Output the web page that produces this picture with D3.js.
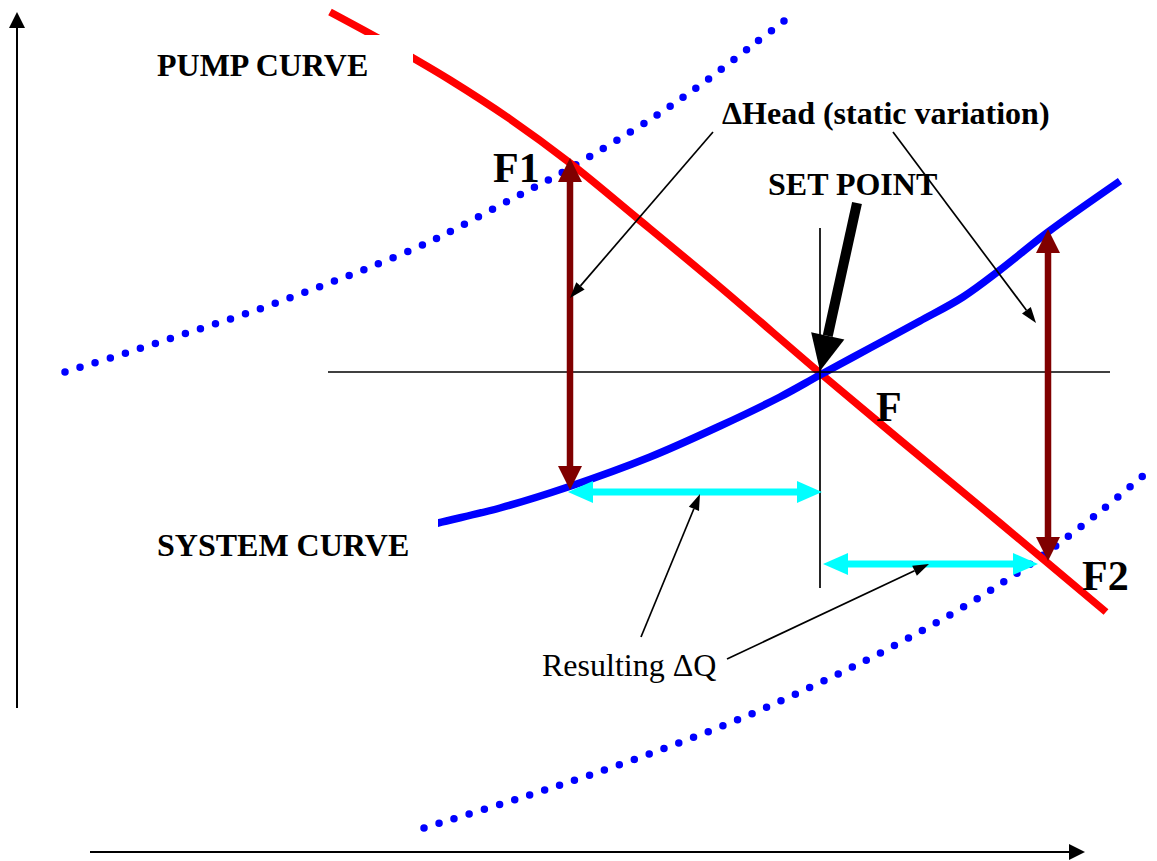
<!DOCTYPE html>
<html>
<head>
<meta charset="utf-8">
<script src="https://cdn.jsdelivr.net/npm/d3@7"></script>
<style>
  body { margin: 0; background: #fff; }
  svg { display: block; }
  text { font-family: "Liberation Serif", "Times New Roman", serif; fill: #000; }
</style>
</head>
<body>
<svg id="drawing_region"></svg>
<script>
// diagram units: Q = flow (x), H = head (y)
var pumpCurve = [
    [33, 84.9], [37.8, 82.3], [41.3, 80.3], [45, 78.1], [51, 74.2], [57, 69.8],
    [63.7, 64.3], [72, 57.4], [82, 48.8], [90, 42.1], [100, 33.8], [110.6, 24.9]
];
var systemCurve = [
    [42, 33.3], [43.8, 33.8], [50, 35.3], [56.8, 37.4], [65, 40.4], [72, 43.5], [78, 46.4],
    [82, 48.6], [87, 51.3], [92, 54], [96.3, 56.4], [100, 59.1], [104.8, 62.9], [112, 68]
];
var systemHigh = [
    [6.5, 48.9], [12.6, 50.8], [18.7, 52.8], [24.8, 54.8], [30.8, 57], [36.8, 59.3],
    [42.7, 61.8], [45.5, 63.2], [51, 66.1], [57, 69.3], [65.1, 74.2], [70.3, 77.8],
    [75.4, 81.7], [79.2, 84.6]
];
var systemLow = [
    [42.4, 3.3], [51.7, 6.2], [59, 8.6], [66.8, 11.4], [74.2, 14.3], [81.5, 17.6],
    [88.6, 21.1], [97, 25.8], [103.9, 30.3], [110.2, 35.1], [115, 39.1]
];
var setPoint = [82, 48.9];
var headArrows = [   // [Q, H top, H bottom]
    [57, 70.3, 37.1],
    [104.8, 63.2, 30.0]
];
var flowArrows = [   // [H, Q left, Q right]
    [36.9, 56.8, 82.2],
    [29.7, 82.3, 103.8]
];
var labels = ['PUMP CURVE', 'SYSTEM CURVE', '\u0394Head (static variation)', 'SET POINT', 'F1', 'F', 'F2', 'Resulting \u0394Q'];

var width = 1157, height = 861;

var svg = d3.select('#drawing_region')
    .attr('width', width)
    .attr('height', height);

var x = d3.scaleLinear().domain([0, 115.7]).range([0, 1157]);
var y = d3.scaleLinear().domain([0, 86.1]).range([861, 0]);

var line = d3.line()
    .x(d => x(d[0]))
    .y(d => y(d[1]))
    .curve(d3.curveCatmullRom);

// arrow helper: shaft + triangular heads (pixel space)
function arrow(g, x1, y1, x2, y2, o) {
    var dx = x2 - x1, dy = y2 - y1, len = Math.sqrt(dx * dx + dy * dy);
    var ux = dx / len, uy = dy / len, nx = -uy, ny = ux;
    var sx1 = x1, sy1 = y1, sx2 = x2 - ux * o.hl, sy2 = y2 - uy * o.hl;
    if (o.both) { sx1 = x1 + ux * o.hl; sy1 = y1 + uy * o.hl; }
    g.append('line')
        .attr('x1', sx1).attr('y1', sy1).attr('x2', sx2).attr('y2', sy2)
        .attr('stroke', o.color).attr('stroke-width', o.sw);
    var head = function(tx, ty, vx, vy) {
        var bx = tx - vx * o.hl, by = ty - vy * o.hl;
        var pts = [[tx, ty], [bx + nx * o.hw / 2, by + ny * o.hw / 2], [bx - nx * o.hw / 2, by - ny * o.hw / 2]];
        g.append('polygon').attr('points', pts.map(p => p.join(',')).join(' ')).attr('fill', o.color);
    };
    head(x2, y2, ux, uy);
    if (o.both) head(x1, y1, -ux, -uy);
}

// axes
var axes = svg.append('g');
arrow(axes, x(1.7), y(15.3), x(1.7), y(84.9), {color: '#000', sw: 2, hl: 16, hw: 16});
arrow(axes, x(9), y(0.9), x(108.5), y(0.9), {color: '#000', sw: 2, hl: 16, hw: 16});

// dotted system curves (static head variation)
[systemHigh, systemLow].forEach(function(d) {
    svg.append('path')
        .attr('d', line(d))
        .attr('fill', 'none')
        .attr('stroke', '#0000ff')
        .attr('stroke-width', 7.5)
        .attr('stroke-linecap', 'round')
        .attr('stroke-dasharray', '0 15.8');
});

// pump curve
svg.append('path')
    .attr('d', line(pumpCurve))
    .attr('fill', 'none')
    .attr('stroke', '#ff0000')
    .attr('stroke-width', 7.5);

// system curve
svg.append('path')
    .attr('d', line(systemCurve))
    .attr('fill', 'none')
    .attr('stroke', '#0000ff')
    .attr('stroke-width', 7.5);

// label boxes that cut the curves
svg.append('rect').attr('x', 150).attr('y', 35).attr('width', 263).attr('height', 60).attr('fill', '#fff');
svg.append('rect').attr('x', 150).attr('y', 505).attr('width', 288).attr('height', 70).attr('fill', '#fff');

// set point cross
svg.append('line')
    .attr('x1', x(32.8)).attr('x2', x(111)).attr('y1', y(setPoint[1])).attr('y2', y(setPoint[1]))
    .attr('stroke', '#000').attr('stroke-width', 1.7);
svg.append('line')
    .attr('x1', x(setPoint[0])).attr('x2', x(setPoint[0])).attr('y1', y(63.3)).attr('y2', y(27.3))
    .attr('stroke', '#000').attr('stroke-width', 1.7);

// head variation arrows
headArrows.forEach(function(d) {
    arrow(svg, x(d[0]), y(d[2]), x(d[0]), y(d[1]), {color: '#800000', sw: 6.5, hl: 24, hw: 24, both: true});
});

// flow variation arrows
flowArrows.forEach(function(d) {
    arrow(svg, x(d[1]), y(d[0]), x(d[2]), y(d[0]), {color: '#00ffff', sw: 7, hl: 25, hw: 22, both: true});
});

// annotation pointers
var thin = {color: '#000', sw: 1.7, hl: 16, hw: 11};
arrow(svg, 713, 132, 570, 298, thin);
arrow(svg, 893, 132, 1036, 323, thin);
arrow(svg, 641, 637, 700, 494, thin);
arrow(svg, 727, 659, 929, 564, thin);
arrow(svg, 857, 203, 820, 371, {color: '#000', sw: 10, hl: 36, hw: 34});

// labels
var lab = [
    {t: labels[0], x: 157, y: 76, s: 32, w: 'bold'},
    {t: labels[1], x: 157, y: 556, s: 32, w: 'bold'},
    {t: labels[2], x: 722, y: 124, s: 32, w: 'bold'},
    {t: labels[3], x: 768, y: 195, s: 32, w: 'bold'},
    {t: labels[4], x: 493, y: 182, s: 42, w: 'bold'},
    {t: labels[5], x: 876, y: 421, s: 42, w: 'bold'},
    {t: labels[6], x: 1082, y: 590, s: 42, w: 'bold'},
    {t: labels[7], x: 542, y: 676, s: 32, w: 'normal'}
];
svg.selectAll('text.lbl')
    .data(lab)
    .enter()
    .append('text')
    .attr('class', 'lbl')
    .attr('x', d => d.x)
    .attr('y', d => d.y)
    .attr('font-size', d => d.s)
    .attr('font-weight', d => d.w)
    .text(d => d.t);
</script>
</body>
</html>
